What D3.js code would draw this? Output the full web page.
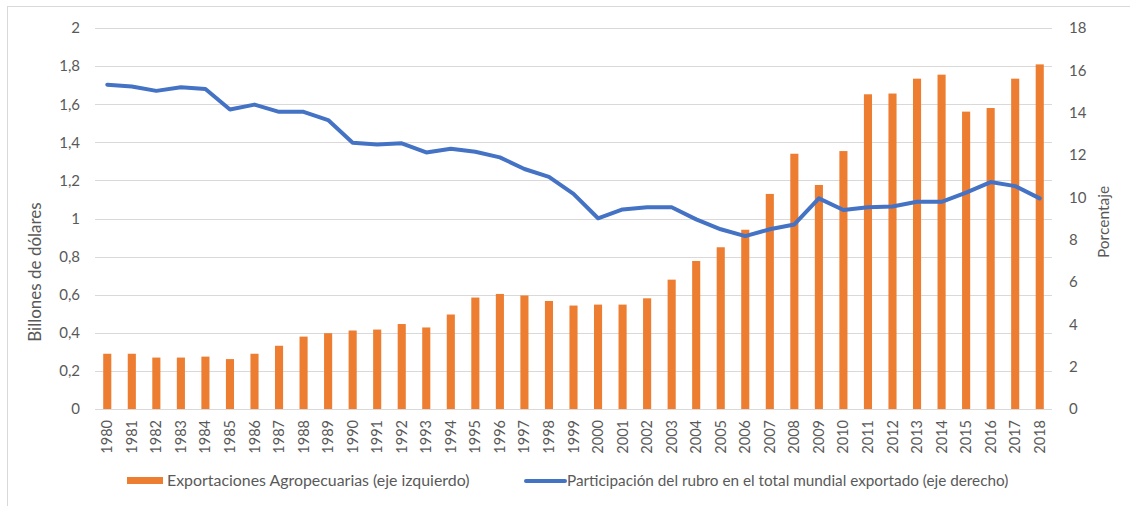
<!DOCTYPE html>
<html>
<head>
<meta charset="utf-8">
<script src="https://cdn.jsdelivr.net/npm/d3@7"></script>
<style>
  body { margin: 0; background: #fff; }
  text { font-family: Lato, "Open Sans", sans-serif; fill: #595959; }
</style>
</head>
<body>
<div id="chart"></div>
<script>
// svg size
var width = 1130, height = 506;

// data
var years = ["1980","1981","1982","1983","1984","1985","1986","1987","1988","1989",
             "1990","1991","1992","1993","1994","1995","1996","1997","1998","1999",
             "2000","2001","2002","2003","2004","2005","2006","2007","2008","2009",
             "2010","2011","2012","2013","2014","2015","2016","2017","2018"];

// exportaciones agropecuarias, billones de dolares (eje izquierdo)
var exports_bn = [0.29, 0.29, 0.27, 0.27, 0.275, 0.262, 0.29, 0.332, 0.38, 0.398,
                  0.412, 0.417, 0.446, 0.428, 0.496, 0.585, 0.604, 0.596, 0.567, 0.543,
                  0.548, 0.548, 0.581, 0.679, 0.777, 0.849, 0.941, 1.129, 1.34, 1.176,
                  1.354, 1.652, 1.656, 1.734, 1.755, 1.561, 1.58, 1.734, 1.809];

// participacion en el total mundial, porcentaje (eje derecho)
var share_pct = [15.32, 15.24, 15.03, 15.2, 15.12, 14.15, 14.38, 14.04, 14.04, 13.65,
                 12.58, 12.5, 12.55, 12.12, 12.3, 12.15, 11.89, 11.34, 10.97, 10.16,
                 9.01, 9.43, 9.53, 9.53, 8.96, 8.49, 8.17, 8.49, 8.72, 9.95,
                 9.4, 9.53, 9.57, 9.79, 9.79, 10.22, 10.72, 10.53, 9.95];

// tick labels
var left_ticks = [0, 0.2, 0.4, 0.6, 0.8, 1, 1.2, 1.4, 1.6, 1.8, 2];
var right_ticks = [0, 2, 4, 6, 8, 10, 12, 14, 16, 18];

var legend_labels = ["Exportaciones Agropecuarias (eje izquierdo)",
                     "Participación del rubro en el total mundial exportado (eje derecho)"];

// plot area
var p_left = 95, p_right = 1052, p_top = 28, p_bottom = 409;
var bar_color = "#ED7D31", line_color = "#4472C4", grid_color = "#d9d9d9";

var svg = d3.select("#chart")
            .append("svg")
            .attr("width", width)
            .attr("height", height);

// chart frame
svg.append("rect")
    .attr("x", 7.5).attr("y", 6.5)
    .attr("width", width).attr("height", height)
    .attr("fill", "none")
    .attr("stroke", grid_color);

// scales
var x = d3.scaleBand()
            .domain(years)
            .range([p_left, p_right])
            .paddingInner(0.67)
            .paddingOuter(0.335);

var yL = d3.scaleLinear().domain([0, 2]).range([p_bottom, p_top]);
var yR = d3.scaleLinear().domain([0, 18]).range([p_bottom, p_top]);

var fmt = function(d){ return String(d).replace(".", ","); };

// gridlines
svg.append("g")
    .attr("class", "grid")
    .selectAll("line")
    .data(left_ticks)
    .enter()
        .append("line")
        .attr("x1", p_left).attr("x2", p_right)
        .attr("y1", function(d){ return Math.round(yL(d)) + 0.5; })
        .attr("y2", function(d){ return Math.round(yL(d)) + 0.5; })
        .attr("stroke", grid_color)
        .attr("stroke-width", 1);

// left axis
var axisL = svg.append("g")
    .attr("transform", "translate(" + (p_left - 15) + ",0)")
    .call(d3.axisLeft(yL).tickValues(left_ticks).tickFormat(fmt).tickSize(0).tickPadding(0));
axisL.select(".domain").remove();
axisL.selectAll("text")
    .style("font-family", "Lato, sans-serif")
    .style("font-size", "15px")
    .attr("fill", "#595959");

// right axis
var axisR = svg.append("g")
    .attr("transform", "translate(" + (p_right + 17) + ",0)")
    .call(d3.axisRight(yR).tickValues(right_ticks).tickSize(0).tickPadding(0));
axisR.select(".domain").remove();
axisR.selectAll("text")
    .style("font-family", "Lato, sans-serif")
    .style("font-size", "15px")
    .attr("fill", "#595959");

// x axis labels
svg.append("g")
    .selectAll("text")
    .data(years)
    .enter()
        .append("text")
        .attr("transform", function(d){
            return "translate(" + (x(d) + x.bandwidth() / 2 + 5) + "," + 420 + ") rotate(-90)";
        })
        .attr("text-anchor", "end")
        .style("font-size", "14.5px")
        .text(function(d){ return d; });

// axis titles
svg.append("text")
    .attr("transform", "translate(41,272) rotate(-90)")
    .attr("text-anchor", "middle")
    .style("font-size", "17px")
    .text("Billones de dólares");

svg.append("text")
    .attr("transform", "translate(1109,222) rotate(-90)")
    .attr("text-anchor", "middle")
    .style("font-size", "15.5px")
    .text("Porcentaje");

// bars
svg.append("g")
    .selectAll("rect")
    .data(exports_bn)
    .enter()
        .append("rect")
        .attr("x", function(d, i){ return x(years[i]); })
        .attr("y", function(d){ return yL(d); })
        .attr("width", x.bandwidth())
        .attr("height", function(d){ return yL(0) - yL(d); })
        .attr("fill", bar_color);

// line
var line = d3.line()
            .x(function(d, i){ return x(years[i]) + x.bandwidth() / 2; })
            .y(function(d){ return yR(d); });

svg.append("path")
    .datum(share_pct)
    .attr("d", line)
    .attr("fill", "none")
    .attr("stroke", line_color)
    .attr("stroke-width", 4)
    .attr("stroke-linejoin", "round")
    .attr("stroke-linecap", "round");

// legend
var lg = svg.append("g").attr("class", "legend");

lg.append("rect")
    .attr("x", 127).attr("y", 477)
    .attr("width", 36).attr("height", 7)
    .attr("fill", bar_color);

lg.append("text")
    .attr("x", 167).attr("y", 486)
    .style("font-size", "15.9px")
    .text(legend_labels[0]);

lg.append("line")
    .attr("x1", 526).attr("x2", 565)
    .attr("y1", 481).attr("y2", 481)
    .attr("stroke", line_color)
    .attr("stroke-width", 4)
    .attr("stroke-linecap", "round");

lg.append("text")
    .attr("x", 567).attr("y", 486)
    .style("font-size", "15.3px")
    .text(legend_labels[1]);
</script>
</body>
</html>
